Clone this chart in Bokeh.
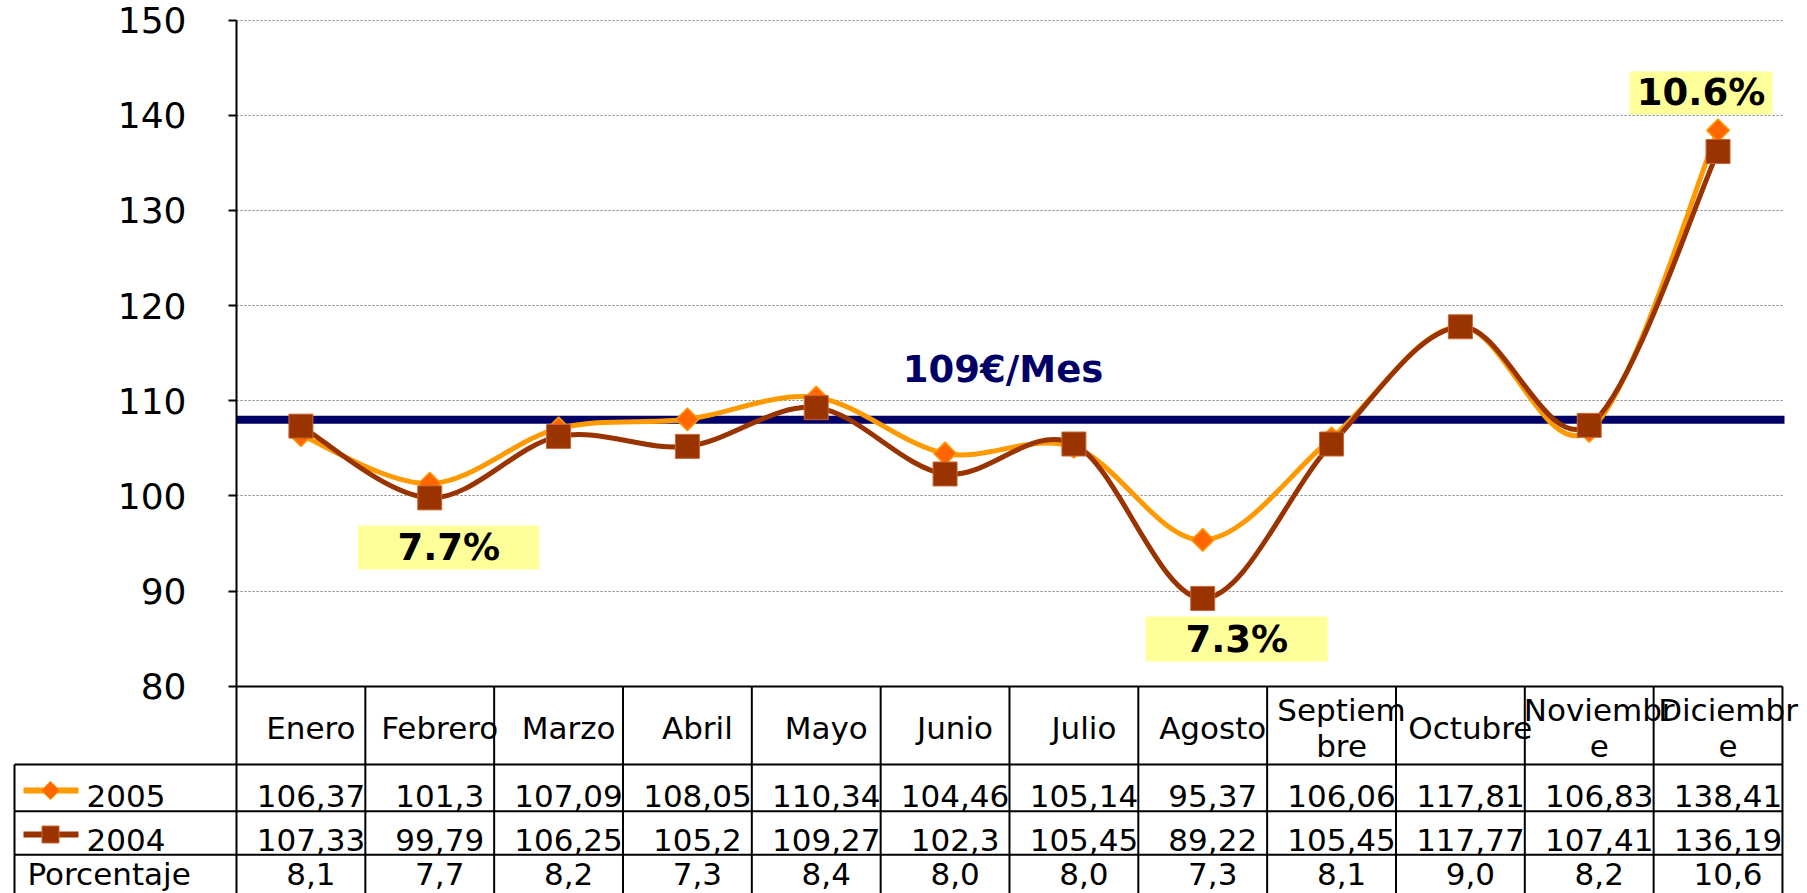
import numpy as np
from bokeh.plotting import figure
from bokeh.models import Range1d, LinearAxis, FixedTicker, Grid
from bokeh.core.properties import value
from bokeh.embed import file_html
from bokeh.resources import INLINE

# ---------------- data ----------------
meses = ["Enero", "Febrero", "Marzo", "Abril", "Mayo", "Junio", "Julio",
         "Agosto", "Septiembre", "Octubre", "Noviembre", "Diciembre"]
etiquetas = ["Enero", "Febrero", "Marzo", "Abril", "Mayo", "Junio", "Julio",
             "Agosto", "Septiem\nbre", "Octubre", "Noviembr\ne", "Diciembr\ne"]
v2005 = [106.37, 101.3, 107.09, 108.05, 110.34, 104.46, 105.14, 95.37,
         106.06, 117.81, 106.83, 138.41]
v2004 = [107.33, 99.79, 106.25, 105.2, 109.27, 102.3, 105.45, 89.22,
         105.45, 117.77, 107.41, 136.19]
porcentaje = [8.1, 7.7, 8.2, 7.3, 8.4, 8.0, 8.0, 7.3, 8.1, 9.0, 8.2, 10.6]
series_names = ["2005", "2004"]
fila_pct = "Porcentaje"
media = 108
media_label = "109€/Mes"
y_ticks = [80, 90, 100, 110, 120, 130, 140, 150]
destacados = [1, 7, 11]

# ---------------- layout / style ----------------
FONT = "DejaVu Sans"
W, H = 1800, 893
PX_X = 128.83          # px per column
PX_Y = 9.5157          # px per value unit
AX_PX = 236            # px of y-axis
RIGHT_END_PX = 1784    # right end of plot lines
Y80_PX = 685.7
Y150_PX = 19.6
C05_LINE, C05_MARK = "#FF9900", "#FF6600"
C04 = "#993300"
NAVY = "#000066"
BOX = "#FFFF99"

x0 = -0.5 - AX_PX / PX_X
x1 = x0 + W / PX_X
x_end = -0.5 + (RIGHT_END_PX - AX_PX) / PX_X
y0 = 80 - (H - Y80_PX) / PX_Y
y1 = 150 + Y150_PX / PX_Y

p = figure(width=W, height=H, output_backend="svg", toolbar_location=None,
           x_range=Range1d(x0, x1), y_range=Range1d(y0, y1),
           x_axis_location=None, y_axis_location=None, min_border=0)
p.extra_x_ranges = {"px": Range1d(0, W)}
p.extra_y_ranges = {"tbl": Range1d(H, 0)}
p.outline_line_color = None
p.grid.visible = False
p.background_fill_color = "white"
p.border_fill_color = "white"

n = len(meses)
xs = list(range(n))

# grid lines
grid_ticks = [t for t in y_ticks if t > y_ticks[0]]
if "cross_bounds" in Grid.properties():
    g = Grid(dimension=1, ticker=FixedTicker(ticks=grid_ticks),
             grid_line_color="#808080", grid_line_dash="2 2", grid_line_width=1,
             cross_bounds=(-0.5, x_end))
    p.add_layout(g, "center")
else:
    p.segment(x0=[-0.5] * len(grid_ticks), x1=[x_end] * len(grid_ticks),
              y0=grid_ticks, y1=grid_ticks, line_color="#808080",
              line_dash="2 2", line_width=1)

# y axis
ax = LinearAxis(fixed_location=-0.5, bounds=(y_ticks[0], y_ticks[-1]),
                ticker=FixedTicker(ticks=y_ticks))
ax.axis_line_width = 2
ax.axis_line_color = "black"
ax.major_tick_out = 8
ax.major_tick_in = 0
ax.major_tick_line_width = 2
ax.minor_tick_out = 0
ax.minor_tick_in = 0
ax.major_label_text_font = FONT
ax.major_label_text_font_size = "36px"
ax.major_label_text_color = "black"
ax.major_label_standoff = 42
p.add_layout(ax, "left")

# average line
p.segment(x0=[-0.5], x1=[x_end], y0=[media], y1=[media], line_color=NAVY, line_width=8)
p.text(x=[5.45], y=[media + 5.3], text=[media_label], text_color=NAVY,
       text_font=value(FONT), text_font_style="bold", text_font_size="37px",
       text_align="center", text_baseline="middle")


def bezier_parts(vals):
    m = len(vals)
    bx0, by0, bx1, by1, cx0, cy0, cx1, cy1 = [], [], [], [], [], [], [], []
    for i in range(m - 1):
        ip = max(i - 1, 0)
        inn = min(i + 2, m - 1)
        bx0.append(i); by0.append(vals[i])
        bx1.append(i + 1); by1.append(vals[i + 1])
        cx0.append(i + ((i + 1) - ip) / 6.0)
        cy0.append(vals[i] + (vals[i + 1] - vals[ip]) / 6.0)
        cx1.append((i + 1) - (inn - i) / 6.0)
        cy1.append(vals[i + 1] - (vals[inn] - vals[i]) / 6.0)
    return dict(x0=bx0, y0=by0, x1=bx1, y1=by1, cx0=cx0, cy0=cy0, cx1=cx1, cy1=cy1)


b05 = bezier_parts(v2005)
p.bezier(line_color=C05_LINE, line_width=5, **b05)
p.scatter(xs, v2005, marker="square", angle=np.pi / 4, size=16,
          fill_color=C05_MARK, line_color=C05_LINE, line_width=1.5)
b04 = bezier_parts(v2004)
p.bezier(line_color=C04, line_width=5, **b04)
p.scatter(xs, v2004, marker="square", size=24, fill_color=C04,
          line_color="#CC6633", line_width=1)

# highlighted percentages
ann_dx = {1: 19 / PX_X, 7: 34 / PX_X, 11: -17 / PX_X}
ann_y = {1: 94.58, 7: 84.96, 11: 142.34}
ann_w = {1: 181, 7: 182, 11: 143}
ann_h = {1: 44, 7: 45, 11: 43}
ax_ = [i + ann_dx[i] for i in destacados]
ay_ = [ann_y[i] for i in destacados]
p.rect(x=ax_, y=ay_, width=[ann_w[i] for i in destacados],
       height=[ann_h[i] for i in destacados], width_units="screen",
       height_units="screen", fill_color=BOX, line_color=None)
p.text(x=ax_, y=ay_, text=[f"{porcentaje[i]:.1f}%" for i in destacados],
       text_color="black", text_font=value(FONT), text_font_style="bold",
       text_font_size="37px", text_align="center", text_baseline="middle")

# ---------------- data table ----------------
TOP, R1, R2, R3, BOT = 686, 764, 810.7, 854.3, H
LEFT_PX, RIGHT_PX = 14, 1782
# horizontal lines
p.segment(x0=[AX_PX, LEFT_PX, LEFT_PX, LEFT_PX], x1=[RIGHT_PX] * 4,
          y0=[TOP, R1, R2, R3], y1=[TOP, R1, R2, R3],
          x_range_name="px", y_range_name="tbl", line_color="black", line_width=2)
# vertical column lines
edges = [i - 0.5 for i in range(n + 1)]
p.segment(x0=edges, x1=edges, y0=[TOP] * len(edges), y1=[BOT] * len(edges),
          y_range_name="tbl", line_color="black", line_width=2)
p.segment(x0=[LEFT_PX], x1=[LEFT_PX], y0=[R1], y1=[BOT],
          x_range_name="px", y_range_name="tbl", line_color="black", line_width=2)

tkw = dict(text_font=value(FONT), text_font_size="31px", text_color="black",
           text_baseline="middle", y_range_name="tbl")
p.text(x=xs, y=[727] * n, text=etiquetas, text_align="center", x_offset=10,
       text_line_height=1.0, **tkw)
p.text(x=xs, y=[795] * n, text=[str(v).replace(".", ",") for v in v2005],
       text_align="center", x_offset=10, **tkw)
p.text(x=xs, y=[839] * n, text=[str(v).replace(".", ",") for v in v2004],
       text_align="center", x_offset=10, **tkw)
p.text(x=xs, y=[873] * n, text=[f"{v:.1f}".replace(".", ",") for v in porcentaje],
       text_align="center", x_offset=10, **tkw)

# left column: legend keys and row names
p.segment(x0=[23, 23], x1=[78, 78], y0=[790, 834], y1=[790, 834],
          x_range_name="px", y_range_name="tbl",
          line_color=[C05_LINE, C04], line_width=6)
p.scatter([50], [790], marker="square", angle=np.pi / 4, size=13,
          fill_color=C05_MARK, line_color=C05_LINE, line_width=1,
          x_range_name="px", y_range_name="tbl")
p.scatter([50], [834], marker="square", size=17, fill_color=C04,
          line_color="#CC6633", line_width=1, x_range_name="px", y_range_name="tbl")
p.text(x=[86, 86, 27], y=[795, 839, 873], text=series_names + [fila_pct],
       text_align="left", x_range_name="px", **tkw)

open("out.html", "w").write(file_html(p, INLINE))
